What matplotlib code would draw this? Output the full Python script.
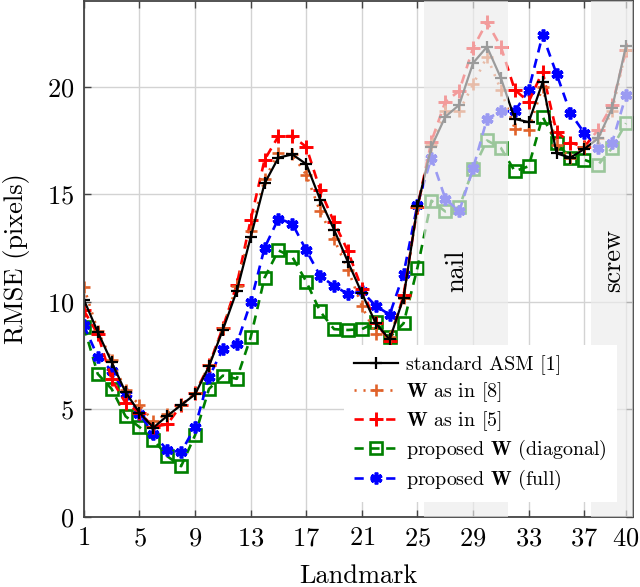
import matplotlib
matplotlib.use("Agg")
import matplotlib.pyplot as plt
import numpy as np

plt.rcParams['font.family'] = 'cmr10'
plt.rcParams['mathtext.fontset'] = 'cm'
plt.rcParams['axes.formatter.use_mathtext'] = True

landmarks = list(range(1, 41))

standard_asm = [10.1, 8.6, 7.2, 5.8, 4.85, 4.15, 4.7, 5.2, 5.7, 7.0,
                8.7, 10.5, 13.0, 15.5, 16.7, 16.85, 16.4, 14.75, 13.35, 11.85,
                10.4, 9.0, 8.25, 10.2, 14.45, 17.2, 18.6, 19.15, 21.1, 21.85,
                20.4, 18.5, 18.35, 20.2, 16.9, 16.7, 17.1, 17.6, 19.0, 21.9]

w_as_in_8 = [10.7, 8.65, 7.3, 5.9, 5.2, 4.45, 4.8, 5.2, 5.75, 7.05,
             8.8, 10.75, 13.3, 15.7, 16.9, 16.85, 15.9, 14.2, 12.9, 11.5,
             9.8, 8.5, 8.35, 10.2, 14.4, 17.3, 18.85, 18.85, 20.1, 21.4,
             19.85, 18.05, 18.0, 20.0, 17.3, 16.7, 17.2, 17.6, 18.85, 21.7]

w_as_in_5 = [9.6, 8.5, 6.4, 5.3, 4.85, 4.2, 4.3, 5.2, 5.75, 7.05,
             8.8, 10.8, 13.8, 16.6, 17.7, 17.7, 17.2, 15.2, 13.7, 12.35,
             10.6, 9.0, 8.2, 10.3, 14.4, 17.45, 19.3, 19.8, 21.8, 23.0,
             21.85, 19.85, 19.3, 20.7, 17.9, 17.4, 17.2, 18.0, 19.15, 21.7]

proposed_diag = [8.85, 6.65, 5.95, 4.68, 4.18, 3.6, 2.82, 2.36, 3.8, 5.95,
                 6.57, 6.42, 8.35, 11.12, 12.39, 12.08, 10.94, 9.55, 8.73, 8.69,
                 8.73, 9.04, 8.35, 9.0, 11.59, 14.7, 14.2, 14.4, 16.15, 17.5,
                 17.15, 16.07, 16.3, 18.6, 17.37, 16.7, 16.6, 16.37, 17.15, 18.3]

proposed_full = [8.9, 7.45, 6.8, 5.73, 4.8, 3.87, 3.1, 3.02, 4.18, 6.5,
                 7.8, 8.04, 9.97, 12.51, 13.87, 13.63, 12.39, 11.2, 10.74, 10.36,
                 10.48, 9.81, 9.4, 11.31, 14.52, 16.7, 14.8, 14.2, 16.2, 18.5,
                 18.85, 18.85, 19.85, 22.4, 20.6, 18.77, 17.85, 17.15, 17.4, 19.6]

xticks = [1, 5, 9, 13, 17, 21, 25, 29, 33, 37, 40]
yticks = [0, 5, 10, 15, 20]
regions = [(25.5, 31.5, 'nail', 27.8), (37.5, 40.5, 'screw', 39.06)]

fig = plt.figure(figsize=(6.4, 5.87), dpi=100)
ax = fig.add_axes([0.131, 0.1193, 0.858, 0.8797])

ax.plot(landmarks, standard_asm, color='black', lw=1.6, marker='+', ms=9, mew=1.6,
        label='standard ASM [1]', zorder=2.3)
ax.plot(landmarks, w_as_in_8, color='#e0622a', lw=1.9, ls=(0, (0.8, 2.6)), marker='+',
        ms=9, mew=1.9, label=r'$\mathbf{W}$ as in [8]', zorder=2.2)
ax.plot(landmarks, w_as_in_5, color='#ff0000', lw=1.9, ls=(0, (3.5, 2.5)), marker='+',
        ms=10, mew=2.1, label=r'$\mathbf{W}$ as in [5]', zorder=2.1)
ax.plot(landmarks, proposed_diag, color='#008000', lw=1.9, ls=(0, (3.5, 2.5)), marker='s',
        ms=9, mew=1.9, mfc='none', label=r'proposed $\mathbf{W}$ (diagonal)', zorder=2.0)
ax.plot(landmarks, proposed_full, color='#0000ff', lw=1.9, ls=(0, (3.5, 2.5)), marker=(6, 2, 0),
        ms=8.5, mew=2.6, label=r'proposed $\mathbf{W}$ (full)', zorder=2.05)

for x0, x1, name, xt in regions:
    ax.axvspan(x0, x1, color=(0.925, 0.925, 0.925), alpha=0.66, lw=0, zorder=3)
    ax.text(xt, 10.45, name, rotation=90, rotation_mode='anchor', ha='left', va='center',
            fontsize=19, zorder=4)

ax.set_xlim(1, 40.5)
ax.set_ylim(0, 24)
ax.set_xticks(xticks)
ax.set_yticks(yticks)
ax.grid(True, color='#d3d3d3', lw=1.0)
ax.set_axisbelow(True)
ax.tick_params(direction='in', length=5, width=1, colors='#444444', labelcolor='black',
               labelsize=19, top=True, right=True, pad=7)
for s in ax.spines.values():
    s.set_color('#444444')
    s.set_linewidth(1.3)

ax.set_xlabel('Landmark', fontsize=19, labelpad=10)
ax.set_ylabel('RMSE (pixels)', fontsize=19, labelpad=12)

leg = ax.legend(loc='lower right', bbox_to_anchor=(0.971, 0.029), borderaxespad=0,
                fontsize=14.4, frameon=True, fancybox=False, framealpha=1.0,
                edgecolor='none', facecolor='white', numpoints=1, handlelength=2.2,
                labelspacing=0.27, borderpad=0.5, handletextpad=0.4)
leg.set_zorder(5)

fig.savefig('out.png', dpi=100)
